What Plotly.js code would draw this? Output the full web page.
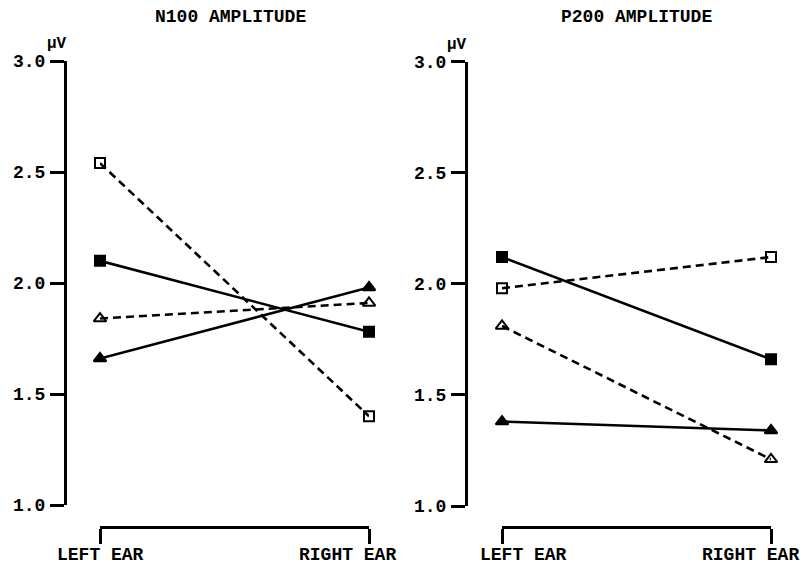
<!DOCTYPE html>
<html>
<head>
<meta charset="utf-8">
<script src="https://cdn.plot.ly/plotly-3.0.1.min.js"></script>
<style>html,body{margin:0;padding:0;background:#fff;}#chart{width:805px;height:569px;}</style>
</head>
<body>
<div id="chart"></div>
<script>
const ears = ['LEFT EAR', 'RIGHT EAR'];
const yTickVals = [1.0, 1.5, 2.0, 2.5, 3.0];
const yTickText = ['1.0', '1.5', '2.0', '2.5', '3.0'];
const panelTitles = ['N100 AMPLITUDE', 'P200 AMPLITUDE'];
const unitLabel = 'µV';

// N100 amplitude
const n100FilledSquare = [2.10, 1.78];
const n100OpenSquare = [2.54, 1.40];
const n100FilledTriangle = [1.66, 1.98];
const n100OpenTriangle = [1.84, 1.91];
// P200 amplitude
const p200FilledSquare = [2.12, 1.66];
const p200OpenSquare = [1.98, 2.12];
const p200FilledTriangle = [1.38, 1.34];
const p200OpenTriangle = [1.81, 1.21];

const FONT = 'Liberation Mono, Courier New, monospace';
const INK = '#000';

function series(y, xa, ya, symbol, dashed) {
  return {
    x: ears, y: y, xaxis: xa, yaxis: ya, type: 'scatter', mode: 'lines+markers',
    cliponaxis: false, showlegend: false, hoverinfo: 'skip',
    line: {color: INK, width: 2.6, dash: dashed ? '8px,5px' : 'solid'},
    marker: {symbol: symbol, size: symbol.indexOf('triangle') === 0 ? 11 : 10, color: INK,
             line: {color: INK, width: 2}}
  };
}

const data = [
  series(n100OpenSquare, 'x', 'y', 'square-open', true),
  series(n100FilledSquare, 'x', 'y', 'square', false),
  series(n100OpenTriangle, 'x', 'y', 'triangle-up-open', true),
  series(n100FilledTriangle, 'x', 'y', 'triangle-up', false),
  series(p200OpenSquare, 'x2', 'y2', 'square-open', true),
  series(p200FilledSquare, 'x2', 'y2', 'square', false),
  series(p200OpenTriangle, 'x2', 'y2', 'triangle-up-open', true),
  series(p200FilledTriangle, 'x2', 'y2', 'triangle-up', false)
];

const W = 805, H = 569;
const px = v => v / W;
const py = v => (H - v) / H;

function xAxis(d0, d1) {
  return {
    domain: [px(d0), px(d1)], anchor: 'free', position: py(527),
    type: 'category', range: [0, 1], showgrid: false, zeroline: false,
    showline: true, linecolor: INK, linewidth: 3,
    ticks: 'outside', ticklen: 15, tickwidth: 3, tickcolor: INK,
    showticklabels: false, fixedrange: true
  };
}
function yAxis(pos, top, bottom) {
  return {
    domain: [py(bottom), py(top)], anchor: 'free', position: px(pos),
    range: [1, 3], showgrid: false, zeroline: false,
    showline: true, linecolor: INK, linewidth: 3,
    ticks: 'outside', ticklen: 14, tickwidth: 3, tickcolor: INK,
    tickvals: yTickVals, ticktext: yTickText, ticklabelstandoff: 1,
    tickfont: {family: FONT, size: 18, color: INK, weight: 'bold'}, fixedrange: true
  };
}

const annotations = [];
function textAnno(text, x, y, size, extra) {
  return Object.assign({text: text, x: x, y: y, xref: 'paper', yref: 'paper', showarrow: false,
    xanchor: 'center', yanchor: 'middle', font: {family: FONT, size: size, color: INK, weight: 'bold'}}, extra || {});
}
annotations.push(textAnno(panelTitles[0], px(230), py(17), 18));
annotations.push(textAnno(panelTitles[1], px(636), py(17), 18));
annotations.push(textAnno(unitLabel, px(57), py(44), 16));
annotations.push(textAnno(unitLabel, px(457), py(45), 16));
// ear labels tied to the category axes
[['x', [0, -22]], ['x2', [21, -21]]].forEach(([xa, shifts]) => {
  ears.forEach((e, i) => {
    annotations.push({text: e, x: e, xref: xa, y: py(555), yref: 'paper', showarrow: false,
      xanchor: 'center', yanchor: 'middle', xshift: shifts[i],
      font: {family: FONT, size: 18, color: INK, weight: 'bold'}});
  });
});

const layout = {
  width: W, height: H, margin: {l: 0, r: 0, t: 0, b: 0},
  paper_bgcolor: '#fff', plot_bgcolor: 'rgba(0,0,0,0)',
  xaxis: xAxis(100, 369),
  yaxis: yAxis(65, 61, 505),
  xaxis2: xAxis(502, 771),
  yaxis2: yAxis(466, 61.5, 506),
  annotations: annotations
};

Plotly.newPlot('chart', data, layout, {staticPlot: true, displayModeBar: false});
</script>
</body>
</html>
